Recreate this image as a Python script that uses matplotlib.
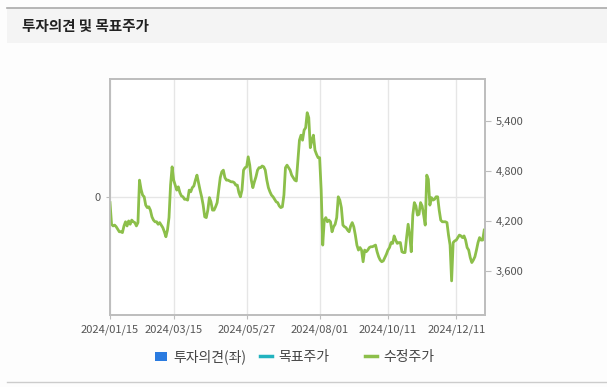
import matplotlib
matplotlib.use("Agg")
import matplotlib.pyplot as plt
from matplotlib.lines import Line2D
from matplotlib.patches import Patch, Rectangle

plt.rcParams['font.family'] = ['Noto Sans CJK KR', 'DejaVu Sans']

# 수정주가, one value per trading session from 2024/01/15
prices = [
    4420, 4160, 4140, 4150, 4130, 4100, 4070, 4070, 4060, 4140,
    4190, 4140, 4200, 4160, 4210, 4190, 4180, 4140, 4180, 4690,
    4580, 4510, 4490, 4390, 4360, 4370, 4330, 4250, 4210, 4190,
    4190, 4160, 4180, 4150, 4120, 4070, 4010, 4090, 4240, 4630,
    4850, 4690, 4630, 4570, 4610, 4540, 4500, 4490, 4460, 4460,
    4450, 4570, 4550, 4600, 4620, 4690, 4750, 4660, 4570, 4490,
    4390, 4250, 4240, 4330, 4480, 4430, 4330, 4330, 4370, 4420,
    4570, 4720, 4790, 4810, 4720, 4690, 4690, 4680, 4670, 4670,
    4660, 4630, 4630, 4540, 4490, 4570, 4810, 4840, 4850, 4970,
    4870, 4690, 4600, 4670, 4730, 4810, 4840, 4840, 4860, 4850,
    4810, 4690, 4600, 4550, 4510, 4490, 4460, 4430, 4420, 4380,
    4360, 4370, 4510, 4840, 4870, 4840, 4810, 4750, 4720, 4690,
    4680, 4930, 5170, 5230, 5170, 5290, 5320, 5500, 5440, 5080,
    5170, 5230, 5050, 5000, 4960, 4960, 4570, 3910, 4210, 4240,
    4190, 4210, 4190, 4070, 4130, 4160, 4240, 4490, 4450, 4360,
    4150, 4130, 4120, 4090, 4070, 4140, 4180, 4130, 4030, 3910,
    3850, 3880, 3850, 3710, 3850, 3830, 3850, 3880, 3890, 3890,
    3900, 3910, 3830, 3770, 3730, 3710, 3720, 3760, 3800, 3850,
    3880, 3940, 3930, 4020, 3970, 3930, 3940, 3940, 3830, 3820,
    3820, 4000, 4160, 4030, 3830, 4270, 4420, 4380, 4270, 4280,
    4420, 4380, 4270, 4150, 4750, 4700, 4390, 4480, 4450, 4460,
    4490, 4490, 4330, 4210, 4190, 4190, 4190, 4180, 4030, 3910,
    3480, 3940, 3960, 3970, 4000, 4030, 4020, 4000, 4020, 3970,
    3880, 3850, 3760, 3700, 3730, 3770, 3850, 3940, 4000, 3970,
    3970, 4090,
]
sessions = list(range(len(prices)))

# session index of each date label
date_ticks = [0, 41, 88, 135, 179, 223]
date_labels = ['2024/01/15', '2024/03/15', '2024/05/27', '2024/08/01',
               '2024/10/11', '2024/12/11']
price_ticks = [3600, 4200, 4800, 5400]

legend_labels = ['투자의견(좌)', '목표주가', '수정주가']

green = '#8cbf4a'
grey_txt = '#555555'
edge = '#bdbdbd'

fig = plt.figure(figsize=(6.07, 3.87), dpi=100)
fig.patch.set_facecolor('#fdfdfd')

# panel header
fig.patches.append(Rectangle((7 / 607, 1 - 43 / 387), 600 / 607, 35 / 387,
                             transform=fig.transFigure, facecolor='#f4f4f4',
                             edgecolor='none', zorder=0))
fig.lines.append(Line2D([7 / 607, 1], [1 - 7.5 / 387, 1 - 7.5 / 387],
                        transform=fig.transFigure, color='#aaaaaa', lw=1.2))
fig.lines.append(Line2D([7 / 607, 1], [1 - 381.5 / 387, 1 - 381.5 / 387],
                        transform=fig.transFigure, color='#cccccc', lw=1))
fig.text(22 / 607, 1 - 26 / 387, '투자의견 및 목표주가', fontsize=10.5,
         fontweight='bold', color='#222222', va='center', ha='left')

ax = fig.add_axes([110 / 607, 1 - 315 / 387, 375 / 607, 236 / 387])
ax.set_facecolor('white')
ax.set_xlim(0, 241.5)
ax.set_ylim(-1, 1)
ax.set_yticks([0])
ax.set_yticklabels(['0'])
ax.axhline(0, color='#e6e6e6', lw=1, zorder=0)
ax.set_xticks(date_ticks)
ax.set_xticklabels(date_labels)
ax.grid(axis='x', color='#e6e6e6', lw=1)
ax.tick_params(axis='both', colors=edge, labelcolor=grey_txt, labelsize=8,
               length=3)
for s in ax.spines.values():
    s.set_color(edge)
    s.set_linewidth(1.2)

ax2 = ax.twinx()
ax2.plot(sessions, prices, color=green, lw=2)
ax2.set_ylim(3070, 5905)
ax2.set_yticks(price_ticks)
ax2.set_yticklabels([f'{p:,}' for p in price_ticks])
ax2.tick_params(axis='y', colors=edge, labelcolor=grey_txt, labelsize=8,
                length=4)
for s in ax2.spines.values():
    s.set_color(edge)
    s.set_linewidth(1.2)

handles = [
    Patch(facecolor='#2a7be0', edgecolor='none'),
    Line2D([], [], color='#22b3bf', lw=2.5),
    Line2D([], [], color=green, lw=2.5),
]
# each legend entry sits in its own fixed slot, as in the original
slots = [155, 260, 365]
for h, lab, x0 in zip(handles, legend_labels, slots):
    leg = fig.legend([h], [lab], loc='center left',
                     bbox_to_anchor=(x0 / 607, 1 - 357 / 387),
                     frameon=False, fontsize=10, handlelength=0.85,
                     handletextpad=0.45, borderpad=0, borderaxespad=0)
    for t in leg.get_texts():
        t.set_color('#444444')

fig.savefig('out.png', dpi=100, facecolor=fig.get_facecolor())
